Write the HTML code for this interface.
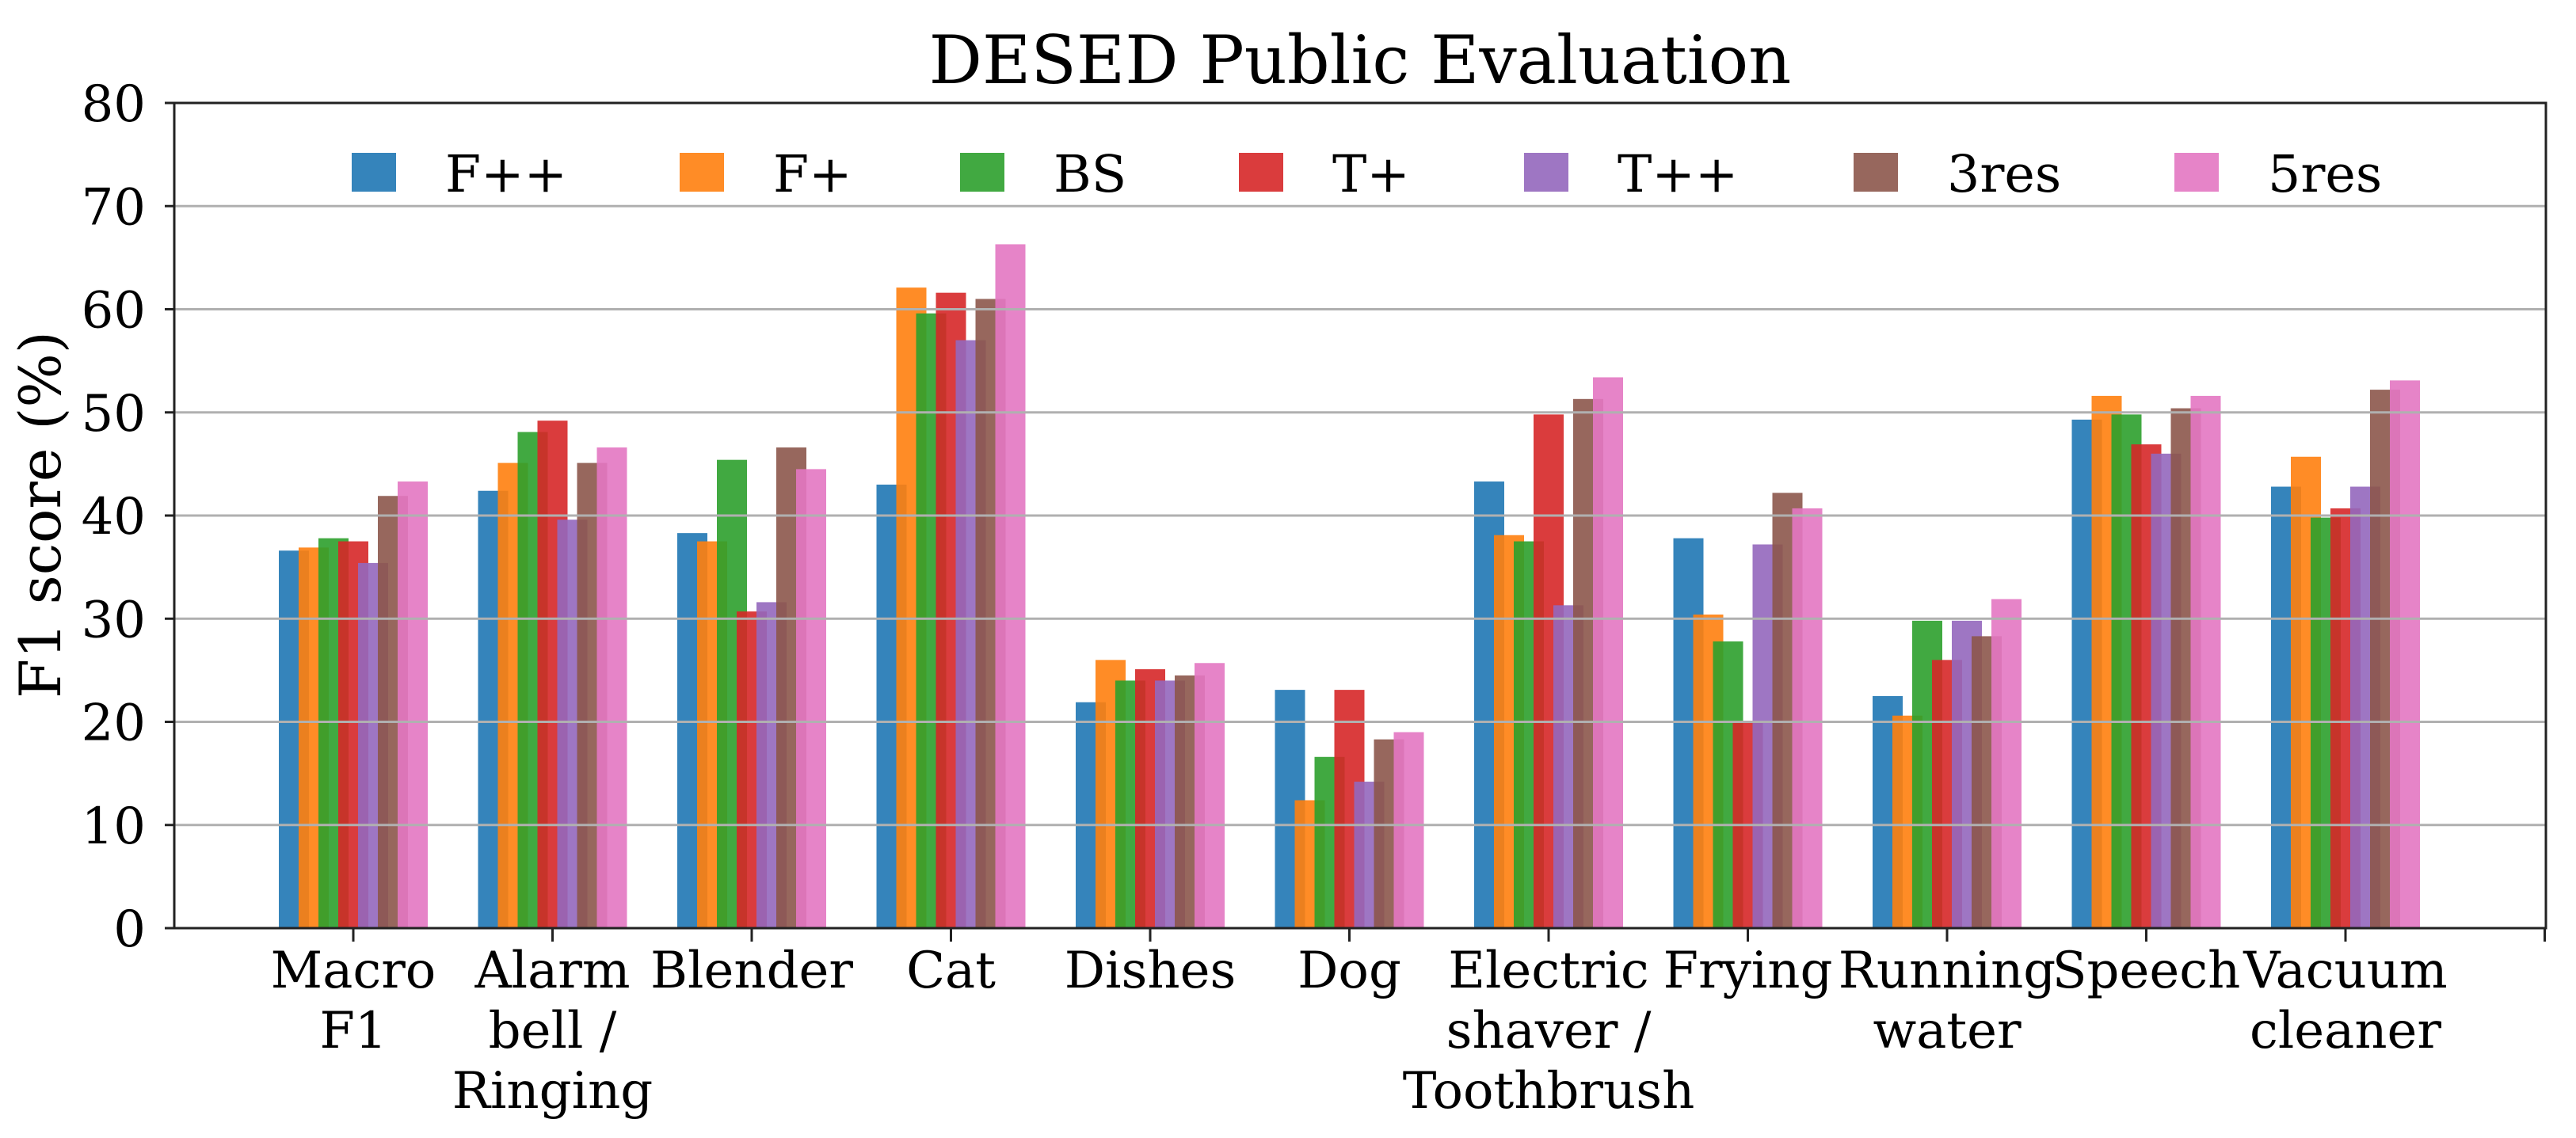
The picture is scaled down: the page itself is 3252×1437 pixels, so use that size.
<!DOCTYPE html>
<html><head><meta charset="utf-8"><style>
html,body{margin:0;padding:0;background:#fff;}
svg{display:block;font-family:"DejaVu Serif","Liberation Serif",serif;}
</style></head><body>
<svg id="chart" width="3252" height="1437" viewBox="0 0 3252 1437" xmlns="http://www.w3.org/2000/svg">
<rect width="3252" height="1437" fill="#fff"/>
<text x="1717" y="105" font-size="84" text-anchor="middle" fill="#000">DESED Public Evaluation</text>
<text x="0" y="0" font-size="72" text-anchor="middle" transform="translate(76,650) rotate(-90)" fill="#000">F1 score (%)</text>
<g id="bars"></g>
<g id="grid"></g>
<g id="axes"></g>
<g id="legend"></g>
</svg>
<script>
const categories = [["Macro","F1"],["Alarm","bell /","Ringing"],["Blender"],["Cat"],["Dishes"],["Dog"],["Electric","shaver /","Toothbrush"],["Frying"],["Running","water"],["Speech"],["Vacuum","cleaner"]];
const seriesNames = ["F++","F+","BS","T+","T++","3res","5res"];
const seriesColors = ["#1f77b4","#ff7f0e","#2ca02c","#d62728","#9467bd","#8c564b","#e377c2"];
const sFpp  = [36.6,42.4,38.3,43.0,21.9,23.1,43.3,37.8,22.5,49.3,42.8];
const sFp   = [36.9,45.1,37.5,62.1,26.0,12.4,38.1,30.4,20.6,51.6,45.7];
const sBS   = [37.8,48.1,45.4,59.6,24.0,16.6,37.5,27.8,29.8,49.8,39.8];
const sTp   = [37.5,49.2,30.7,61.6,25.1,23.1,49.8,20.0,26.0,46.9,40.7];
const sTpp  = [35.4,39.6,31.6,57.0,24.0,14.2,31.3,37.2,29.8,46.0,42.8];
const s3res = [41.9,45.1,46.6,61.0,24.5,18.3,51.3,42.2,28.3,50.4,52.2];
const s5res = [43.3,46.6,44.5,66.3,25.7,19.0,53.4,40.7,31.9,51.6,53.1];
const yTicks = [0,10,20,30,40,50,60,70,80];

const series = [sFpp,sFp,sBS,sTp,sTpp,s3res,s5res];
const NS = "http://www.w3.org/2000/svg";
const L=220, R=3214, T=130, B=1172;
const xStep=251.5, x0=446;
function xScale(i){return x0 + i*xStep;}
function yScale(v){return B - (v/80)*(B-T);}
function mk(tag, attrs, parent){const e=document.createElementNS(NS,tag);for(const k in attrs)e.setAttribute(k,attrs[k]);parent.appendChild(e);return e;}

const gBars=document.getElementById('bars');
const barStep=25, barW=38;
series.forEach((vals,s)=>{
  vals.forEach((v,i)=>{
    const cx=xScale(i);
    const left=cx-94+s*barStep;
    const r=mk('rect',{x:left,y:yScale(v),width:barW,height:B-yScale(v),fill:seriesColors[s],'fill-opacity':0.9},gBars);
    
    
  });
});

const gGrid=document.getElementById('grid');
yTicks.forEach(t=>{
  if(t===0||t===80)return;
  const l=mk('line',{x1:L,x2:R,y1:yScale(t),y2:yScale(t),stroke:'#b0b0b0','stroke-width':3},gGrid);
  
  
});

const gAx=document.getElementById('axes');
mk('rect',{x:L,y:T,width:R-L,height:B-T,fill:'none',stroke:'#222','stroke-width':3},gAx);
yTicks.forEach(t=>{
  mk('line',{x1:L-12,x2:L,y1:yScale(t),y2:yScale(t),stroke:'#222','stroke-width':3},gAx);
  const tx=mk('text',{x:L-36,y:yScale(t)+23,'font-size':64,'text-anchor':'end',fill:'#000'},gAx);
  tx.textContent=t;
  
  
});
for(let i=0;i<=categories.length;i++){
  mk('line',{x1:xScale(i),x2:xScale(i),y1:B,y2:B+17,stroke:'#222','stroke-width':3},gAx);
}
categories.forEach((lines,i)=>{
  const tx=mk('text',{x:xScale(i),y:1247,'font-size':64,'text-anchor':'middle',fill:'#000'},gAx);
  
  
  lines.forEach((ln,j)=>{
    const ts=mk('tspan',{x:xScale(i),y:1247+j*76},tx);
    ts.textContent=ln;
  });
});

const gLeg=document.getElementById('legend');
const legX=[444,858,1212,1564,1924,2340,2745];
seriesNames.forEach((n,s)=>{
  const g=mk('g',{},gLeg);
  
  
  mk('rect',{x:legX[s],y:193,width:56,height:49,fill:seriesColors[s],'fill-opacity':0.9},g);
  const tx=mk('text',{x:legX[s]+118,y:242,'font-size':65,fill:'#000'},g);
  tx.textContent=n;
});
</script>
</body></html>
